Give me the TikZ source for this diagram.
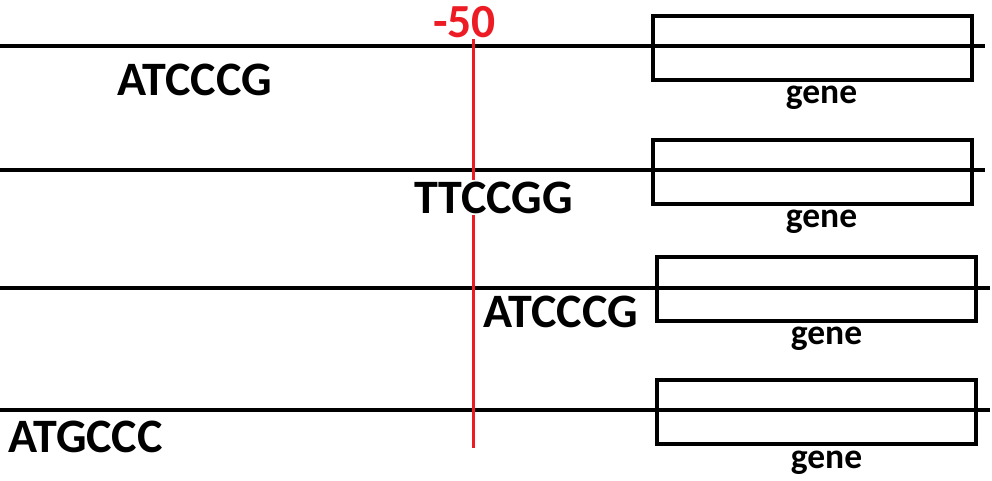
\documentclass[tikz,border=0pt]{standalone}
\usepackage{fontspec}
\setmainfont{Carlito}
\usetikzlibrary{positioning}
\definecolor{paintred}{RGB}{237,28,36}

\begin{document}
\begin{tikzpicture}[x=1pt,y=-1pt]

        \useasboundingbox (0,0) rectangle (992,480);

        \begin{scope}[every node/.style={draw,line width=4pt,inner sep=0pt,outer sep=0pt,
                      minimum width=319pt,minimum height=64pt}]
          \node (g1) at (812.5,48)  {};
          \node (g2) at (812.5,171.5) {};
          \node (g3) at (816,288.5) {};
          \node (g4) at (816,412) {};
        \end{scope}

        \coordinate (w1) at (0,46);   \coordinate (e1) at (985,46);
        \coordinate (w2) at (0,170);  \coordinate (e2) at (985,170);
        \coordinate (w3) at (0,288);  \coordinate (e3) at (990,288);
        \coordinate (w4) at (0,410);  \coordinate (e4) at (990,410);

        \begin{scope}[line width=4pt]
          \draw (w1) -- (e1);
          \draw (w2) -- (e2);
          \draw (w3) -- (e3);
          \draw (w4) -- (e4);
        \end{scope}

        \node (m50) [anchor=base west,inner sep=0pt,text=paintred,
              font=\fontsize{47.5}{50}\selectfont\bfseries] at (433,37) {-50};
        \coordinate (top) at (473,39);
        \coordinate (bot) at (473,448);
        \draw[paintred,line width=3pt] (top) -- (bot);

        \begin{scope}[every node/.style={anchor=base west,fill=white,inner xsep=0pt,inner ysep=2pt,
                      font=\fontsize{48}{50}\selectfont\bfseries}]
          \node (s1) at (117,95)  {ATCCCG};
          \node (s2) at (414,213) {TTCCGG};
          \node (s3) at (483,327) {ATCCCG};
          \node (s4) at (8,452)   {ATGCCC};
        \end{scope}

        \begin{scope}[every node/.style={anchor=base,inner sep=0pt,
                      font=\fontsize{35.5}{38}\selectfont\bfseries}]
          \node (n1) at (821.5,103) {gene};
          \node (n2) at (821.5,227) {gene};
          \node (n3) at (826.5,344) {gene};
          \node (n4) at (826.5,468) {gene};
        \end{scope}

      \end{tikzpicture}
\end{document}
